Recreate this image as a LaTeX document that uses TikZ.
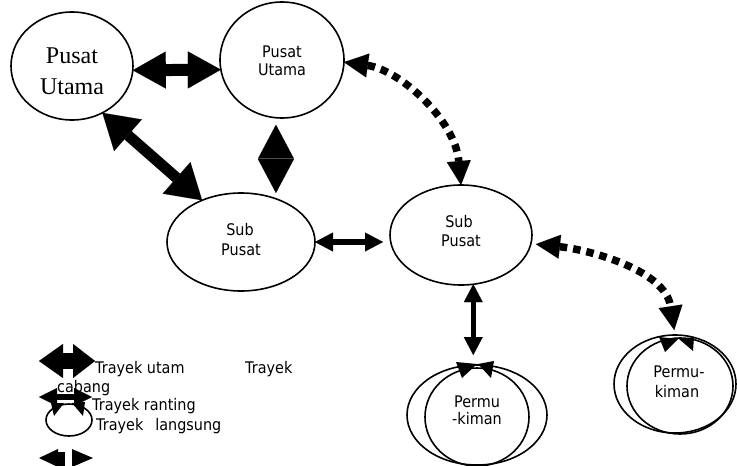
\documentclass[tikz,border=0pt]{standalone}
\usepackage{fontspec}
\setmainfont{Liberation Serif}
\newfontfamily\tahoma[FakeStretch=0.9]{DejaVu Sans}
\usetikzlibrary{arrows.meta,shapes.geometric,calc}

\tikzset{
  oval/.style 2 args={ellipse, draw, line width=1.6pt, inner sep=0pt, outer sep=0pt,
    minimum width={2*#1pt}, minimum height={2*#2pt}},
  sanslbl/.style={font=\tahoma\fontsize{16}{18}\selectfont, inner sep=0pt},
  seriflbl/.style={font=\fontsize{24}{31}\selectfont, inner sep=0pt},
  utama/.style={line width=12pt,
    arrows={Triangle[length=33pt,width=37pt,line width=0.01pt]-Triangle[length=33pt,width=37pt,line width=0.01pt]}},
  utamadiag/.style={line width=11pt,
    arrows={Triangle[length=34pt,width=42pt,line width=0.01pt]-Triangle[length=34pt,width=42pt,line width=0.01pt]}},
  cabang/.style={line width=1pt,
    arrows={Triangle[length=34pt,width=36pt,line width=0.01pt]-Triangle[length=34pt,width=36pt,line width=0.01pt]}},
  ranting/.style={line width=5.5pt,
    arrows={Triangle[length=18pt,width=19pt,line width=0.01pt]-Triangle[length=18pt,width=19pt,line width=0.01pt]}},
  langsung/.style={line width=7.5pt, dash pattern=on 7.5pt off 6pt,
    arrows={Triangle[length=24pt,width=24pt,line width=0.01pt]-Triangle[length=24pt,width=24pt,line width=0.01pt]}},
  tipfill/.style={fill=black}
}

\begin{document}
\begin{tikzpicture}[x=1pt,y=-1pt]
\useasboundingbox (0,0) rectangle (737,466);

% places
\node[oval={61}{54}] (pu1) at (72,66) {};
\node[oval={62}{58}] (pu2) at (282,60) {};
\node[oval={74}{49}] (sp1) at (241,242) {};
\node[oval={71}{50}] (sp2) at (461,235) {};
\node[oval={70}{50}] (pk1) at (477,415) {};
\node[oval={52}{49}] (pk1in) at (477,417) {};
\node[oval={61}{49}] (pk2) at (675,384) {};
\node[oval={53}{48}] (pk2in) at (680,386) {};

% labels
\node[seriflbl, anchor=base] (l1a) at (72,63) {Pusat};
\node[seriflbl, anchor=base] (l1b) at (72,94) {Utama};
\node[sanslbl, anchor=base] (l2a) at (282,57) {Pusat};
\node[sanslbl, anchor=base] (l2b) at (282,75) {Utama};
\node[sanslbl, anchor=base] (l3a) at (240,235) {Sub};
\node[sanslbl, anchor=base] (l3b) at (241,255) {Pusat};
\node[sanslbl, anchor=base] (l4a) at (459,227) {Sub};
\node[sanslbl, anchor=base] (l4b) at (461,246) {Pusat};
\node[sanslbl, anchor=base] (l5a) at (477,407) {Permu};
\node[sanslbl, anchor=base] (l5b) at (477,424) {-kiman};
\node[sanslbl, anchor=base] (l6a) at (679,377) {Permu-};
\node[sanslbl, anchor=base] (l6b) at (677,397) {kiman};

% routes
\draw[utama] (pu1.-4) -- (pu2.189);
\draw[utamadiag] (pu1.-57) -- (sp1.133);
\draw[cabang, shorten <=7pt] (pu2.-96) -- (pu2.-96 |- sp1.north);
\draw[ranting] (sp1.east) -- ($(sp1.east -| sp2.west)+(-7,0)$);
\draw[ranting] (sp2.-76) -- ($(sp2.-76 |- pk1.north)+(0,-10)$);
\draw[langsung] (pu2.-2) .. controls (400,70) and (455,120) .. (sp2.north);
\draw[langsung, shorten <=5pt, shorten >=5pt] (sp2.-7) .. controls (590,250) and (665,270) .. (pk2.north);

% loop arrowheads on the settlements
\fill[tipfill] (456,362) -- (477,364) -- (462,378) -- cycle;
\fill[tipfill] (478,364) -- (494,361) -- (491,378) -- cycle;
\fill[tipfill] (659,337) -- (678,339) -- (665,352) -- cycle;
\fill[tipfill] (679,339) -- (694,337) -- (693,351) -- cycle;

% legend
\coordinate (ka) at (39,361);
\coordinate (kb) at (95,361);
\draw[line width=16pt,
  arrows={Triangle[length=24pt,width=34pt,line width=0.01pt]-Triangle[length=22pt,width=34pt,line width=0.01pt]}] (ka) -- (kb);
\coordinate (ma) at (39,397);
\coordinate (mb) at (92,397);
\draw[line width=6pt,
  arrows={Triangle[length=18pt,width=18pt,line width=0.01pt]-Triangle[length=18pt,width=18pt,line width=0.01pt]}] (ma) -- (mb);
\node[oval={23}{16}] (lg) at (69,420) {};
\fill[tipfill] (51,403) -- (64,403) -- (54,416) -- cycle;
\fill[tipfill] (72,403) -- (85,402) -- (83,416) -- cycle;
\fill (39,458) -- (58,449) -- (58,467) -- cycle;
\fill (58,452) rectangle (65,466);
\fill (93,458) -- (72,449) -- (72,467) -- cycle;

\node[sanslbl, anchor=base west] (g1) at (95,373) {Trayek utam};
\node[sanslbl, anchor=base west] (g2) at (245,373) {Trayek};
\node[sanslbl, anchor=base west] (g3) at (57,392) {cabang};
\node[sanslbl, anchor=base west] (g4) at (92,410) {Trayek ranting};
\node[sanslbl, anchor=base west] (g5) at (96,430) {Trayek\hspace*{12pt}langsung};
\end{tikzpicture}
\end{document}
